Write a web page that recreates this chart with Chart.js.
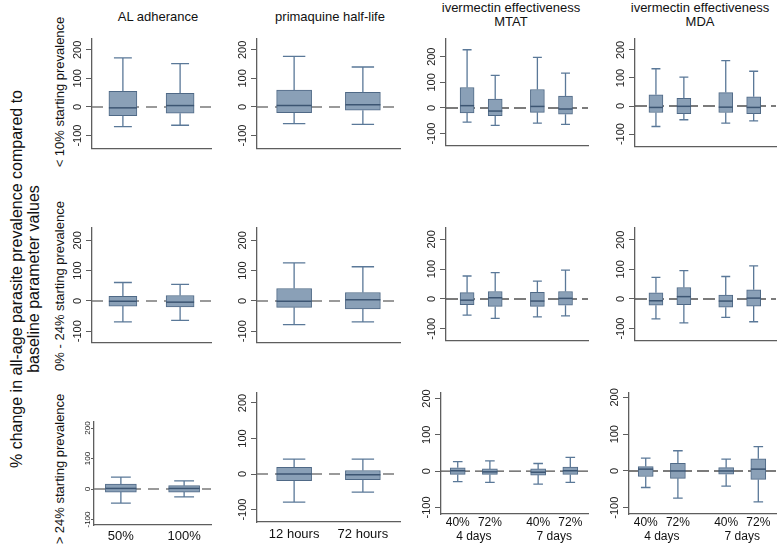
<!DOCTYPE html>
<html>
<head>
<meta charset="utf-8">
<script src="https://cdn.jsdelivr.net/npm/chart.js@4.4.1/dist/chart.umd.min.js"></script>
<style>
  body { margin: 0; background: #fff; }
  #fig { position: relative; width: 778px; height: 546px; overflow: hidden; font-family: "Liberation Sans", Arial, sans-serif; color: #111; }
  #fig canvas { position: absolute; }
  .lbl { position: absolute; white-space: nowrap; text-align: center; transform: translate(-50%, -50%); }
  .rot { transform: translate(-50%, -50%) rotate(-90deg); }
</style>
</head>
<body>
<div id="fig"></div>
<script>
// text
const yTitle = ['% change in all-age parasite prevalence compared to', 'baseline parameter values']
const colTitles = [['AL adherance'], ['primaquine half-life'], ['ivermectin effectiveness', 'MTAT'], ['ivermectin effectiveness', 'MDA']]
const rowTitles = ['< 10% starting prevalence', '0% - 24% starting prevalence', '> 24% starting prevalence']
const yTicks = [-100, 0, 100, 200]

// x labels (only shown in the bottom row)
const alLabels = ['50%', '100%']
const pqLabels = ['12 hours', '72 hours']
const ivLabels = ['40%', '72%', '40%', '72%']
const ivGroups = ['4 days', '7 days']

// box stats: [min, q1, median, q3, max]
const alLow = [[-69, -30, -3, 55, 172], [-64, -22, 5, 48, 152]]
const alMid = [[-69, -17, -1, 15, 61], [-64, -20, -4, 18, 55]]
const alHigh = [[-46, -10, 2, 16, 39], [-26, -10, 2, 11, 27]]
const pqLow = [[-58, -20, 5, 59, 177], [-61, -11, 8, 51, 140]]
const pqMid = [[-78, -21, -1, 41, 126], [-69, -26, 4, 28, 113]]
const pqHigh = [[-79, -19, 0, 19, 42], [-51, -16, -2, 10, 42]]
const mtatLow = [[-55, -19, 9, 80, 227], [-68, -30, -12, 35, 127], [-59, -17, 6, 72, 197], [-64, -24, -4, 46, 136]]
const mtatMid = [[-54, -19, -4, 21, 77], [-65, -25, 4, 25, 88], [-60, -25, -7, 22, 60], [-57, -21, 2, 25, 97]]
const mtatHigh = [[-29, -9, 1, 9, 26], [-31, -9, -2, 6, 28], [-36, -11, -3, 6, 21], [-31, -9, 1, 11, 38]]
const mdaLow = [[-73, -23, -5, 40, 133], [-49, -27, -1, 27, 103], [-61, -23, -4, 48, 162], [-53, -27, -5, 33, 124]]
const mdaMid = [[-67, -21, -6, 21, 73], [-81, -19, 8, 39, 96], [-62, -28, -7, 13, 76], [-77, -24, 3, 31, 112]]
const mdaHigh = [[-45, -15, 5, 12, 35], [-74, -20, 0, 21, 55], [-41, -9, 0, 9, 32], [-84, -23, 5, 33, 66]]

const fig = document.getElementById('fig')
const FONT = '"Liberation Sans", Arial, sans-serif'
const axisColor = '#5e5e5e'
const boxFill = '#8aa0b7'
const boxLine = '#4f6986'
const whiskerColor = '#5a7898'

function addText (lines, x, y, size, rotated) {
  const d = document.createElement('div')
  d.className = 'lbl' + (rotated ? ' rot' : '')
  d.style.left = x + 'px'
  d.style.top = y + 'px'
  d.style.fontSize = size + 'px'
  d.style.lineHeight = (size + 1) + 'px'
  d.innerHTML = lines.map(s => s.replace(/</g, '&lt;').replace(/>/g, '&gt;')).join('<br>')
  fig.appendChild(d)
}

addText(yTitle, 25, 279, 16, true)
addText([rowTitles[0]], 60, 92, 13, true)
addText([rowTitles[1]], 60, 286, 13, true)
addText([rowTitles[2]], 60, 469, 13, true)
addText(colTitles[0], 158, 17, 13)
addText(colTitles[1], 330, 17, 13)
addText(colTitles[2], 511, 15, 13)
addText(colTitles[3], 700, 15, 13)

// draws whiskers, caps, medians and the dashed zero reference
const boxPlot = {
  id: 'boxPlot',
  beforeDatasetsDraw (chart) {
    const { ctx, chartArea: a, scales: { y } } = chart
    const ds = chart.data.datasets[0]
    const y0 = y.getPixelForValue(0)
    ctx.save()
    ctx.strokeStyle = ds.zeroColor
    ctx.lineWidth = 1.4
    ctx.setLineDash(ds.zeroDash)
    ctx.beginPath()
    ctx.moveTo(a.left, y0)
    ctx.lineTo(a.right, y0)
    ctx.stroke()
    ctx.restore()
  },
  afterDatasetsDraw (chart) {
    const { ctx, scales: { y } } = chart
    const ds = chart.data.datasets[0]
    ctx.save()
    chart.getDatasetMeta(0).data.forEach((bar, i) => {
      const [mn, q1, md, q3, mx] = ds.stats[i]
      const half = bar.width / 2
      const cap = bar.width * 0.32
      const px = v => y.getPixelForValue(v)
      ctx.strokeStyle = whiskerColor
      ctx.lineWidth = 1.3
      ctx.beginPath()
      ctx.moveTo(bar.x, px(q3)); ctx.lineTo(bar.x, px(mx))
      ctx.moveTo(bar.x - cap, px(mx)); ctx.lineTo(bar.x + cap, px(mx))
      ctx.moveTo(bar.x, px(q1)); ctx.lineTo(bar.x, px(mn))
      ctx.moveTo(bar.x - cap, px(mn)); ctx.lineTo(bar.x + cap, px(mn))
      ctx.stroke()
      ctx.strokeStyle = '#3c5572'
      ctx.lineWidth = 1.5
      ctx.beginPath()
      ctx.moveTo(bar.x - half, px(md)); ctx.lineTo(bar.x + half, px(md))
      ctx.stroke()
    })
    ctx.restore()
  }
}

const measure = document.createElement('canvas').getContext('2d')

function makePanel (p) {
  const [left, right, top, bottom] = p.box
  const padTop = 8
  const padRight = 3
  const yW = 30
  const xH = p.xTicks.some(t => t.label) && p.showX ? 34 : 2
  const w = right - left + yW + padRight
  const h = bottom - top + padTop + xH
  const cv = document.createElement('canvas')
  cv.width = w
  cv.height = h
  cv.style.left = (left - yW) + 'px'
  cv.style.top = (top - padTop) + 'px'
  cv.style.width = w + 'px'
  cv.style.height = h + 'px'
  fig.appendChild(cv)

  measure.font = p.tf + 'px ' + FONT
  const widest = measure.measureText('-100').width
  const yPad = p.labelOff - p.tl - widest / 2

  const xs = p.xTicks.filter(t => t.box).map(t => t.value)

  return new Chart(cv, {
    type: 'bar',
    data: {
      datasets: [{
        data: p.stats.map((s, i) => ({ x: xs[i], y: [s[1], s[3]] })),
        stats: p.stats,
        zeroColor: p.zeroColor,
        zeroDash: p.zeroDash,
        backgroundColor: boxFill,
        borderColor: boxLine,
        borderWidth: 1,
        borderSkipped: false,
        barThickness: p.bw
      }]
    },
    options: {
      responsive: false,
      devicePixelRatio: 1,
      animation: false,
      events: [],
      layout: { autoPadding: false, padding: { top: padTop, right: padRight, left: 0, bottom: 0 } },
      plugins: { legend: { display: false }, tooltip: { enabled: false } },
      scales: {
        x: {
          type: 'linear',
          min: p.x[0],
          max: p.x[1],
          bounds: 'data',
          offset: false,
          afterBuildTicks: s => { s.ticks = p.xTicks.map(t => ({ value: t.value })) },
          afterFit: s => { s.height = xH },
          grid: { display: false, drawTicks: false },
          border: { display: true, color: axisColor, width: 1.3 },
          ticks: {
            display: !!p.showX,
            autoSkip: false,
            maxRotation: 0,
            minRotation: 0,
            padding: p.xPad || 0,
            color: '#111',
            font: { family: FONT, size: p.xf || 12 },
            callback: (v, i) => p.xTicks[i] ? p.xTicks[i].label : ''
          }
        },
        y: {
          min: p.y[0],
          max: p.y[1],
          bounds: 'data',
          afterBuildTicks: s => { s.ticks = yTicks.map(v => ({ value: v })) },
          afterFit: s => { s.width = yW },
          grid: { display: true, drawOnChartArea: false, drawTicks: true, tickLength: p.tl, color: axisColor, lineWidth: 1 },
          border: { display: true, color: axisColor, width: 1.3 },
          ticks: {
            autoSkip: false,
            minRotation: 90,
            maxRotation: 90,
            crossAlign: 'center',
            padding: yPad,
            color: '#222',
            font: { family: FONT, size: p.tf }
          }
        }
      }
    },
    plugins: [boxPlot]
  })
}

// x tick layouts
function twoBox (labels) {
  return labels.map((l, i) => ({ value: i + 1, label: l, box: true }))
}
function fourBox () {
  const pos = [1, 2, 3.5, 4.5]
  const t = ivLabels.map((l, i) => ({ value: pos[i], label: l, box: true }))
  t.push({ value: 1.5, label: ['', ivGroups[0]] })
  t.push({ value: 4, label: ['', ivGroups[1]] })
  return t
}

const dashA = [11, 7]
const dashB = [12, 5]
const grayA = '#7a7a7a'
const grayB = '#505050'

const panels = [
  // row 1
  { stats: alLow, xTicks: twoBox(alLabels), box: [92, 211, 39, 150], y: [-145, 238], x: [0.46, 2.54], bw: 28, tf: 11, tl: 6, labelOff: 14, zeroColor: grayA, zeroDash: dashA },
  { stats: pqLow, xTicks: twoBox(pqLabels), box: [257, 400, 39, 150], y: [-145, 238], x: [0.46, 2.54], bw: 35, tf: 11, tl: 6, labelOff: 14, zeroColor: grayA, zeroDash: dashA },
  { stats: mtatLow, xTicks: fourBox(), box: [446, 588, 39, 147], y: [-146, 269], x: [0.25, 5.3], bw: 14, tf: 11, tl: 6, labelOff: 14, zeroColor: grayB, zeroDash: dashB },
  { stats: mdaLow, xTicks: fourBox(), box: [635, 776, 39, 148], y: [-144, 239], x: [0.25, 5.3], bw: 14, tf: 11, tl: 6, labelOff: 14, zeroColor: grayB, zeroDash: dashB },
  // row 2
  { stats: alMid, xTicks: twoBox(alLabels), box: [92, 211, 228, 344], y: [-137, 241], x: [0.46, 2.54], bw: 28, tf: 11, tl: 6, labelOff: 14, zeroColor: grayA, zeroDash: dashA },
  { stats: pqMid, xTicks: twoBox(pqLabels), box: [257, 400, 228, 344], y: [-137, 241], x: [0.46, 2.54], bw: 35, tf: 11, tl: 6, labelOff: 14, zeroColor: grayA, zeroDash: dashA },
  { stats: mtatMid, xTicks: fourBox(), box: [446, 588, 228, 342], y: [-139, 238], x: [0.25, 5.3], bw: 14, tf: 11, tl: 6, labelOff: 14, zeroColor: grayB, zeroDash: dashB },
  { stats: mdaMid, xTicks: fourBox(), box: [635, 776, 228, 342], y: [-140, 240], x: [0.25, 5.3], bw: 14, tf: 11, tl: 6, labelOff: 14, zeroColor: grayB, zeroDash: dashB },
  // row 3
  { stats: alHigh, xTicks: twoBox(alLabels), showX: true, box: [94, 211, 422, 525], y: [-118, 220], x: [0.575, 2.425], bw: 31, tf: 8, tl: 3, labelOff: 6.5, xf: 13, xPad: 4, zeroColor: grayA, zeroDash: dashA },
  { stats: pqHigh, xTicks: twoBox(pqLabels), showX: true, box: [257, 400, 393, 522], y: [-135, 228], x: [0.46, 2.54], bw: 35, tf: 11, tl: 6, labelOff: 14, xf: 13, xPad: 5, zeroColor: grayA, zeroDash: dashA },
  { stats: mtatHigh, xTicks: fourBox(), showX: true, box: [441, 588, 393, 514], y: [-118, 215], x: [0.48, 5.05], bw: 15, tf: 11, tl: 6, labelOff: 14, xf: 12, xPad: 1, zeroColor: grayB, zeroDash: dashB },
  { stats: mdaHigh, xTicks: fourBox(), showX: true, box: [629, 776, 393, 514], y: [-117, 212], x: [0.48, 5.05], bw: 15, tf: 11, tl: 6, labelOff: 14, xf: 12, xPad: 1, zeroColor: grayB, zeroDash: dashB }
]

panels.forEach(makePanel)
</script>
</body>
</html>
